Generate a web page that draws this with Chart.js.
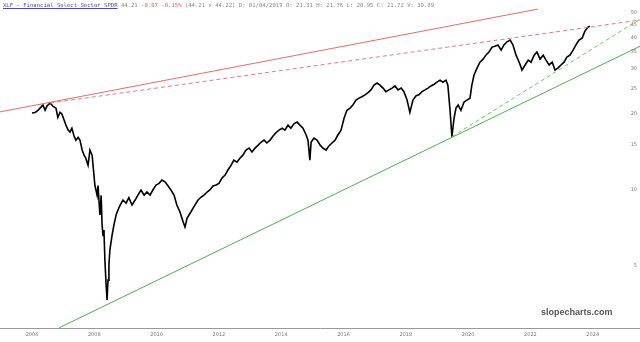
<!DOCTYPE html>
<html><head><meta charset="utf-8">
<script src="https://cdn.jsdelivr.net/npm/chart.js@4"></script>
<style>
html,body{margin:0;padding:0;background:#fff;}
#wrap{position:relative;width:640px;height:342px;}
#hdr{position:absolute;left:3px;top:2px;font-family:"DejaVu Sans Mono",monospace;font-size:5.6px;line-height:7px;color:#888;white-space:pre;}
#hdr .nm{color:#4a4aa8;text-decoration:underline;}
#hdr .dn{color:#e05a5a;}
#wm{position:absolute;left:541px;top:307px;font-family:"Liberation Sans",Arial,sans-serif;font-weight:bold;font-size:9px;color:#555;}
</style></head>
<body><div id="wrap"><canvas id="c" width="640" height="342"></canvas>
<div id="hdr"><span class="nm">XLF - Financial Select Sector SPDR</span> 44.21 <span class="dn">-0.07 -0.15%</span> (44.21 x 44.22) D: 01/04/2019 O: 21.31 H: 21.76 L: 20.95 C: 21.72 V: 39.89</div>
<div id="wm">slopecharts.com</div></div>
<script>
const years = [2006.00,2006.10,2006.19,2006.29,2006.35,2006.42,2006.48,2006.58,2006.67,2006.77,2006.83,2006.90,2006.96,2007.03,2007.09,2007.16,2007.22,2007.28,2007.35,2007.41,2007.48,2007.54,2007.61,2007.67,2007.73,2007.80,2007.86,2007.93,2007.99,2008.02,2008.09,2008.12,2008.18,2008.22,2008.25,2008.28,2008.31,2008.34,2008.38,2008.41,2008.44,2008.47,2008.50,2008.57,2008.63,2008.70,2008.76,2008.83,2008.92,2009.02,2009.11,2009.21,2009.31,2009.40,2009.50,2009.60,2009.69,2009.79,2009.88,2009.98,2010.08,2010.17,2010.27,2010.37,2010.46,2010.56,2010.65,2010.75,2010.85,2010.91,2010.98,2011.04,2011.10,2011.17,2011.23,2011.33,2011.43,2011.52,2011.62,2011.71,2011.81,2011.91,2012.00,2012.10,2012.20,2012.29,2012.39,2012.48,2012.58,2012.68,2012.77,2012.87,2012.97,2013.06,2013.16,2013.26,2013.35,2013.45,2013.54,2013.64,2013.74,2013.83,2013.93,2014.03,2014.12,2014.22,2014.31,2014.41,2014.51,2014.60,2014.70,2014.80,2014.86,2014.92,2014.96,2015.05,2015.15,2015.25,2015.34,2015.44,2015.53,2015.63,2015.73,2015.82,2015.92,2016.02,2016.11,2016.21,2016.30,2016.40,2016.50,2016.59,2016.69,2016.79,2016.88,2016.98,2017.08,2017.17,2017.27,2017.36,2017.46,2017.56,2017.65,2017.75,2017.85,2017.94,2018.04,2018.13,2018.23,2018.33,2018.42,2018.52,2018.62,2018.71,2018.81,2018.91,2019.00,2019.10,2019.19,2019.29,2019.35,2019.42,2019.48,2019.55,2019.61,2019.68,2019.77,2019.87,2019.96,2020.06,2020.12,2020.19,2020.29,2020.38,2020.48,2020.57,2020.67,2020.77,2020.86,2020.96,2021.06,2021.15,2021.25,2021.35,2021.44,2021.54,2021.64,2021.73,2021.83,2021.93,2022.02,2022.12,2022.21,2022.31,2022.41,2022.50,2022.60,2022.70,2022.79,2022.89,2022.98,2023.08,2023.17,2023.27,2023.37,2023.46,2023.56,2023.66,2023.75,2023.85,2023.91];
const prices = [20.1,20.2,20.6,21.2,21.6,20.6,21.4,22.0,21.4,21.0,19.3,20.2,19.9,18.85,18.0,17.2,16.9,17.5,16.3,15.7,16.1,15.7,14.35,13.7,13.3,12.5,14.35,13.7,11.4,10.4,9.5,10.4,7.95,9.5,7.26,6.6,6.94,5.28,4.2,3.67,4.4,5.05,5.78,6.6,7.26,7.95,8.32,8.7,9.11,8.85,9.3,8.7,9.11,9.53,9.98,9.53,9.8,9.53,9.98,10.44,10.6,10.93,10.75,10.35,9.98,9.53,8.7,8.17,7.47,7.13,7.74,7.95,8.17,8.47,8.7,9.11,9.36,9.53,9.8,9.98,10.35,10.44,10.6,11.13,11.43,11.97,12.5,13.1,12.85,13.35,13.7,14.35,14.6,14.1,14.6,15.0,15.4,15.7,15.3,15.7,16.3,16.8,17.2,17.5,17.2,18.0,17.5,18.2,18.5,18.0,17.5,16.45,15.7,13.1,15.4,16.0,15.7,15.0,14.6,14.35,14.9,15.3,15.7,16.45,17.2,19.2,20.6,21.0,21.6,22.6,23.0,23.3,23.7,24.2,24.8,25.9,26.4,25.9,25.2,24.4,24.8,25.2,25.7,24.8,25.2,24.4,22.6,20.2,22.6,23.5,23.7,24.4,24.8,25.2,25.7,26.1,26.6,27.1,26.6,27.1,25.9,20.6,16.2,19.2,21.0,21.6,20.6,22.2,22.6,23.0,25.9,28.4,30.3,31.9,32.8,34.0,35.0,36.6,36.9,37.3,35.6,37.3,38.4,39.0,37.3,34.0,31.9,29.7,31.1,32.5,31.9,34.0,35.0,32.8,34.0,32.5,31.1,31.9,29.7,30.3,31.1,31.9,33.4,34.0,35.6,37.3,39.0,39.7,42.3,43.9,44.21];
const redSolidYears = [2004.97, 2022.24];
const redSolidValues = [20.3, 51.7];
const redDashYears = [2006.58, 2025.52];
const redDashValues = [22.0, 46.8];
const greenSolidYears = [2006.87, 2025.52];
const greenSolidValues = [2.85, 36.9];
const greenDashYears = [2019.48, 2025.52];
const greenDashValues = [16.2, 47.2];
const xTickLabels = [2006,2008,2010,2012,2014,2016,2018,2020,2022,2024];
const yTickLabels = [5,10,15,20,25,30,35,40,45,50];

const pts = (xs, ys) => xs.map((x, i) => ({x: x, y: ys[i]}));
const tickFont = {family: '"DejaVu Sans", sans-serif', size: 5};

new Chart(document.getElementById('c'), {
  type: 'line',
  data: {
    datasets: [
      {data: pts(redSolidYears, redSolidValues), borderColor: '#e46c6c', borderWidth: 1, pointRadius: 0},
      {data: pts(redDashYears, redDashValues), borderColor: '#e07a8a', borderWidth: 1, borderDash: [4, 3], pointRadius: 0},
      {data: pts(greenSolidYears, greenSolidValues), borderColor: '#4caf50', borderWidth: 1, pointRadius: 0},
      {data: pts(greenDashYears, greenDashValues), borderColor: '#6cc46c', borderWidth: 1, borderDash: [4, 3], pointRadius: 0},
      {data: pts(years, prices), borderColor: '#000', borderWidth: 1.6, pointRadius: 0}
    ]
  },
  options: {
    responsive: false,
    animation: false,
    layout: {padding: 0},
    plugins: {legend: {display: false}, tooltip: {enabled: false}},
    scales: {
      x: {
        type: 'linear', min: 2004.973, max: 2025.518,
        grid: {display: false, drawTicks: false},
        border: {display: true, color: '#999', width: 1},
        afterBuildTicks: s => { s.ticks = xTickLabels.map(v => ({value: v})); },
        afterFit: s => { s.height = 14; s.paddingLeft = 0; s.paddingRight = 0; },
        ticks: {font: tickFont, color: '#777', padding: 4, maxRotation: 0, autoSkip: false, callback: v => String(v)}
      },
      y: {
        type: 'logarithmic', position: 'right', min: 2.846, max: 56.14,
        grid: {display: false, drawTicks: false},
        border: {display: false},
        afterBuildTicks: s => { s.ticks = yTickLabels.map(v => ({value: v})); },
        afterFit: s => { s.width = 0; s.paddingTop = 0; s.paddingBottom = 0; },
        ticks: {font: tickFont, color: '#777', mirror: true, padding: -3, autoSkip: false, callback: v => String(v)}
      }
    }
  }
});
</script></body></html>
